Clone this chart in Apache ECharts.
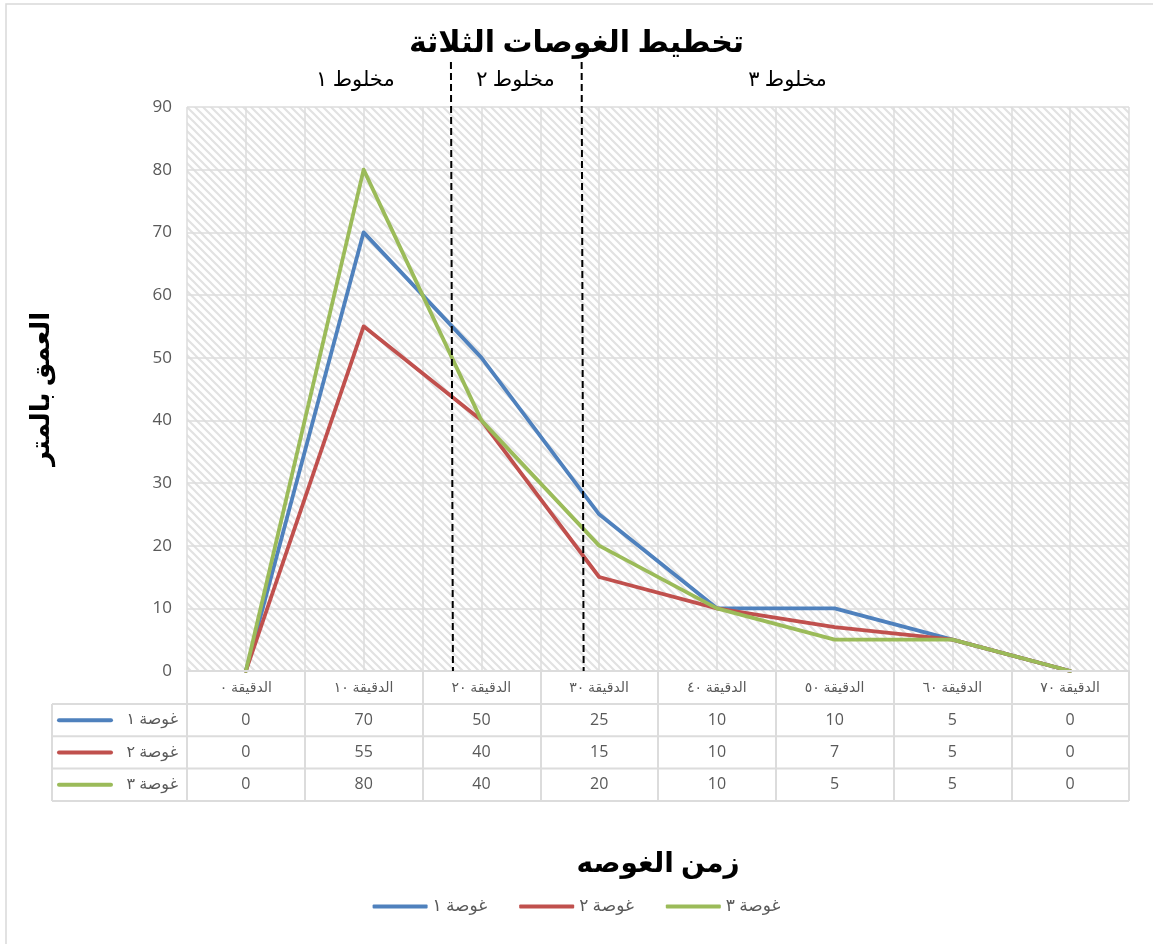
<!DOCTYPE html>
<html>
<head>
<meta charset="utf-8">
<script src="https://cdn.jsdelivr.net/npm/echarts@6/dist/echarts.min.js"></script>
<style>
  html, body { margin: 0; padding: 0; background: #fff; }
  #chart { width: 1153px; height: 944px; }
</style>
</head>
<body>
<div id="chart"></div>
<script>
// ---- data ----
const categories = ['الدقيقة ٠', 'الدقيقة ١٠', 'الدقيقة ٢٠', 'الدقيقة ٣٠', 'الدقيقة ٤٠', 'الدقيقة ٥٠', 'الدقيقة ٦٠', 'الدقيقة ٧٠'];
const seriesNames = ['غوصة ١', 'غوصة ٢', 'غوصة ٣'];
const dive1 = [0, 70, 50, 25, 10, 10, 5, 0];
const dive2 = [0, 55, 40, 15, 10, 7, 5, 0];
const dive3 = [0, 80, 40, 20, 10, 5, 5, 0];
const depthMin = 0, depthMax = 90, depthStep = 10;
const mixLabels = ['مخلوط ١', 'مخلوط ٢', 'مخلوط ٣'];
// gas mixture changes, in category-index units
const mixDividers = [1.75, 2.86];
const mixLabelAt = [0.93, 2.29, 4.6];

const titleText = 'تخطيط الغوصات الثلاثة';
const xTitle = 'زمن الغوصه';
const yTitle = 'العمق بالمتر';

// ---- styling ----
const colors = ['#4F81BD', '#C0504D', '#9BBB59'];
const gridColor = '#dcdcdc';
const textGray = '#595959';
const arabicFont = "'Liberation Serif', 'DejaVu Sans', serif";
const numFont = "'Open Sans', 'Liberation Sans', sans-serif";
const dives = [dive1, dive2, dive3];

// diagonal hatch for the plot area
function hatch() {
  const s = 8;
  const c = document.createElement('canvas');
  c.width = s; c.height = s;
  const g = c.getContext('2d');
  g.fillStyle = '#ffffff';
  g.fillRect(0, 0, s, s);
  g.strokeStyle = '#e2e2e2';
  g.lineWidth = 2.2;
  g.beginPath();
  g.moveTo(-2, -2); g.lineTo(s + 2, s + 2);
  g.moveTo(-2, s - 2); g.lineTo(2, s + 2);
  g.moveTo(s - 2, -2); g.lineTo(s + 2, 2);
  g.stroke();
  return { image: c, repeat: 'repeat' };
}

const GRID = { left: 187, right: 24, top: 107, bottom: 273 };
const HEADER_H = 33, ROW_H = 32.3;

const chart = echarts.init(document.getElementById('chart'), null, { renderer: 'canvas' });

chart.setOption({
  animation: false,
  backgroundColor: '#fff',
  title: {
    text: titleText, left: 'center', top: 24,
    textStyle: { fontFamily: arabicFont, fontSize: 30, fontWeight: 'bold', color: '#000' }
  },
  legend: {
    bottom: 24, left: 'center',
    data: seriesNames,
    icon: 'roundRect', itemWidth: 55, itemHeight: 4, itemGap: 32,
    textStyle: { fontFamily: arabicFont, fontSize: 17, color: textGray }
  },
  grid: Object.assign({ show: true, borderWidth: 0, backgroundColor: hatch(), containLabel: false }, GRID),
  xAxis: [
    {
      type: 'category', data: categories, boundaryGap: true,
      axisLine: { show: true, lineStyle: { color: gridColor, width: 2 } },
      axisTick: { show: true, length: HEADER_H + ROW_H * 3, lineStyle: { color: gridColor, width: 2 } },
      axisLabel: { margin: 10, fontFamily: arabicFont, fontSize: 14, color: textGray },
      splitLine: { show: false },
      name: xTitle, nameLocation: 'middle', nameGap: 180,
      nameTextStyle: { fontFamily: arabicFont, fontSize: 28, fontWeight: 'bold', color: '#000' },
      z: 5
    },
    {
      type: 'value', min: -0.5, max: 7.5, interval: 0.5, position: 'bottom',
      axisLine: { show: false }, axisTick: { show: false }, axisLabel: { show: false },
      splitLine: { show: true, lineStyle: { color: gridColor, width: 1.5 } }
    }
  ],
  yAxis: {
    type: 'value', min: depthMin, max: depthMax, interval: depthStep,
    axisLine: { show: false }, axisTick: { show: false },
    axisLabel: { margin: 15, fontFamily: numFont, fontSize: 17, color: textGray },
    splitLine: { show: true, lineStyle: { color: gridColor, width: 1.5 } },
    name: yTitle, nameLocation: 'middle', nameGap: 132, nameRotate: 90,
    nameTextStyle: { fontFamily: arabicFont, fontSize: 26, fontWeight: 'bold', color: '#000' }
  },
  series: dives.map((d, i) => ({
    name: seriesNames[i], type: 'line', xAxisIndex: 0, data: d,
    symbol: 'none', smooth: false,
    lineStyle: { color: colors[i], width: 3.8, cap: 'round', join: 'round' },
    itemStyle: { color: colors[i] },
    z: 3 + (i === 2 ? 1 : 0)
  }))
});

// ---- overlay: mixture dividers, data table ----
function drawOverlay() {
  const px = v => chart.convertToPixel({ xAxisIndex: 1 }, v);
  const py = v => chart.convertToPixel({ yAxisIndex: 0 }, v);
  const yBase = py(depthMin);
  const yTop = py(depthMax);
  const xRight = px(categories.length - 0.5);
  const tableLeft = 52;
  const g = [];

  // outer chart frame
  g.push({ type: 'rect', shape: { x: 6, y: 4, width: 1200, height: 1000 },
           style: { fill: 'none', stroke: '#d9d9d9', lineWidth: 1.5 }, silent: true, z: 1 });

  // dashed dividers between gas mixtures
  mixDividers.forEach(v => {
    g.push({ type: 'line', shape: { x1: px(v) - 1, y1: yTop - 45, x2: px(v) + 1, y2: yBase },
             style: { stroke: '#000', lineWidth: 2, lineDash: [7, 4] }, z: 20 });
  });
  mixLabels.forEach((t, i) => {
    g.push({ type: 'text', x: px(mixLabelAt[i]), y: yTop - 27,
             style: { text: t, fontFamily: arabicFont, fontSize: 21, fill: '#000', align: 'center', verticalAlign: 'middle' }, z: 20 });
  });

  // table rows
  const rowTop = yBase + HEADER_H;
  for (let r = 0; r <= dives.length; r++) {
    const y = rowTop + r * ROW_H;
    g.push({ type: 'line', shape: { x1: tableLeft, y1: y, x2: xRight, y2: y },
             style: { stroke: gridColor, lineWidth: 2 }, z: 10 });
  }
  g.push({ type: 'line', shape: { x1: tableLeft, y1: rowTop, x2: tableLeft, y2: rowTop + ROW_H * dives.length },
           style: { stroke: gridColor, lineWidth: 2 }, z: 10 });

  dives.forEach((d, r) => {
    const yc = rowTop + ROW_H * (r + 0.5);
    g.push({ type: 'line', shape: { x1: 59, y1: yc, x2: 111, y2: yc },
             style: { stroke: colors[r], lineWidth: 4, lineCap: 'round' }, z: 11 });
    g.push({ type: 'text', x: 178, y: yc,
             style: { text: seriesNames[r], fontFamily: arabicFont, fontSize: 16, fill: textGray, align: 'right', verticalAlign: 'middle' }, z: 11 });
    d.forEach((v, i) => {
      g.push({ type: 'text', x: px(i), y: yc,
               style: { text: String(v), fontFamily: numFont, fontSize: 16, fill: textGray, align: 'center', verticalAlign: 'middle' }, z: 11 });
    });
  });

  chart.setOption({ graphic: g });
}
drawOverlay();
</script>
</body>
</html>
